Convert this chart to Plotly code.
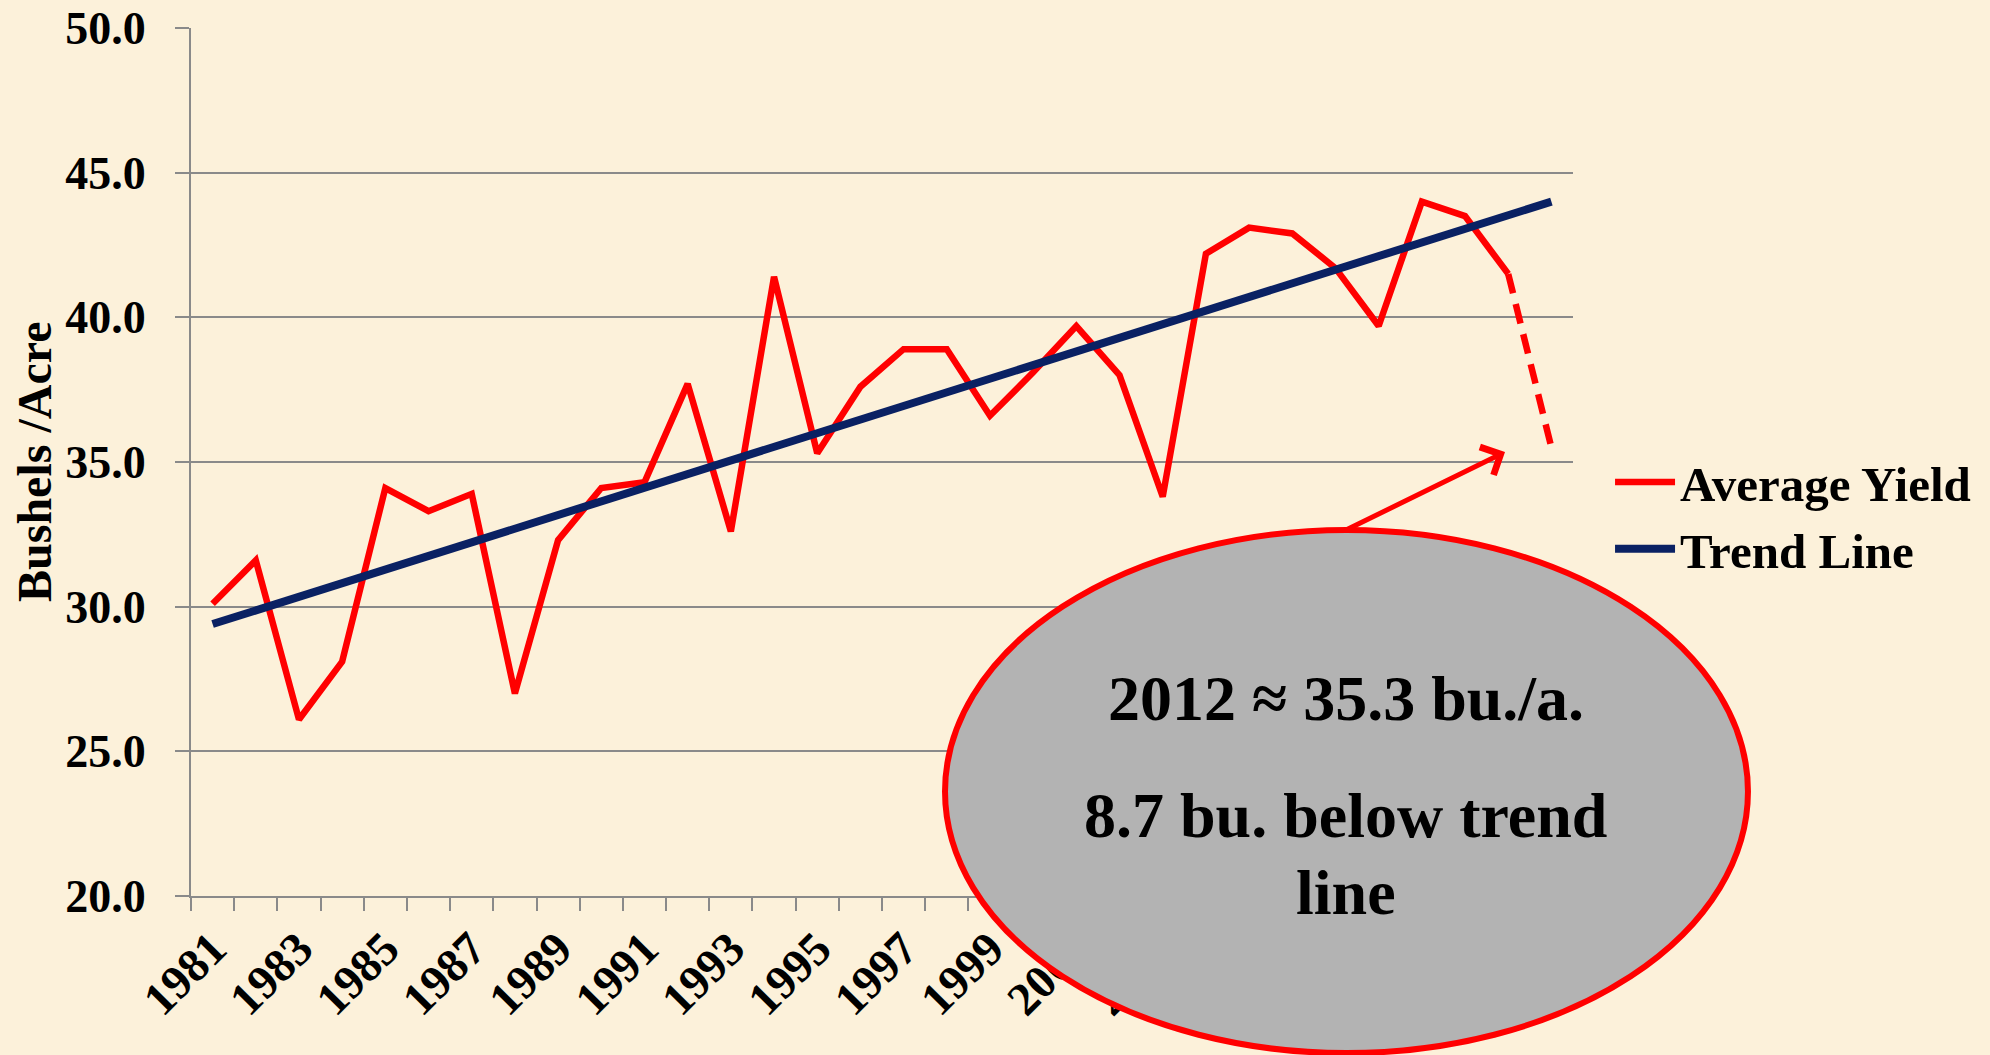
import plotly.graph_objects as go

years = [1981, 1982, 1983, 1984, 1985, 1986, 1987, 1988, 1989, 1990,
         1991, 1992, 1993, 1994, 1995, 1996, 1997, 1998, 1999, 2000,
         2001, 2002, 2003, 2004, 2005, 2006, 2007, 2008, 2009, 2010, 2011]
avg_yield = [30.1, 31.6, 26.1, 28.1, 34.1, 33.3, 33.9, 27.0, 32.3, 34.1,
             34.3, 37.7, 32.6, 41.4, 35.3, 37.6, 38.9, 38.9, 36.6, 38.1,
             39.7, 38.0, 33.8, 42.2, 43.1, 42.9, 41.7, 39.7, 44.0, 43.5, 41.5]

# 2012 estimate, drawn dashed from the 2011 point
est_years = [2011, 2012]
est_yield = [41.5, 35.5]

trend_years = [1981, 2012]
trend_yield = [29.4, 44.0]

tick_years = [1981, 1983, 1985, 1987, 1989, 1991, 1993, 1995,
              1997, 1999, 2001, 2003, 2005, 2007, 2009, 2011]
tick_labels = [str(y) for y in tick_years]
y_ticks = [20, 25, 30, 35, 40, 45, 50]
y_labels = ["20.0", "25.0", "30.0", "35.0", "40.0", "45.0", "50.0"]

RED = "#ff0000"
NAVY = "#0a2163"
GRID = "#8a8a8a"
BG = "#fcf1da"
SERIF = "Liberation Serif"

fig = go.Figure()
fig.add_trace(go.Scatter(x=years, y=avg_yield, mode="lines", name="Average Yield",
                         line=dict(color=RED, width=6.5)))
fig.add_trace(go.Scatter(x=est_years, y=est_yield, mode="lines", showlegend=False,
                         line=dict(color=RED, width=6.5, dash="20px,11px")))
fig.add_trace(go.Scatter(x=trend_years, y=trend_yield, mode="lines", name="Trend Line",
                         line=dict(color=NAVY, width=8)))

fig.update_layout(
    width=1990, height=1055,
    margin=dict(l=191, r=417, t=28, b=159, pad=0, autoexpand=False),
    paper_bgcolor=BG, plot_bgcolor=BG,
    font=dict(family=SERIF, color="black", size=46, weight="bold"),
    xaxis=dict(range=[1980.5, 2012.5], showgrid=False, zeroline=False,
               showline=True, linecolor=GRID, linewidth=2,
               tickmode="array", tickvals=tick_years, ticktext=tick_labels,
               ticks="", tickangle=-45, ticklabelstandoff=4,
               tickfont=dict(family=SERIF, size=47, weight="bold"),
               minor=dict(tickmode="linear", tick0=1980.5, dtick=1, ticks="outside",
                          ticklen=13, tickwidth=2, tickcolor=GRID, showgrid=False)),
    yaxis=dict(range=[20, 50], tickmode="array", tickvals=y_ticks, ticktext=y_labels,
               showgrid=True, gridcolor=GRID, gridwidth=2, zeroline=False,
               showline=True, linecolor=GRID, linewidth=2,
               ticks="outside", ticklen=14, tickwidth=2, tickcolor=GRID,
               ticklabelstandoff=20,
               tickfont=dict(family=SERIF, size=46, weight="bold")),
    legend=dict(x=1.0268, y=0.521, xanchor="left", yanchor="top",
                bgcolor="rgba(0,0,0,0)", itemwidth=60,
                font=dict(family=SERIF, size=49, weight="bold")),
)

# callout bubble
fig.add_shape(type="circle", xref="paper", yref="paper",
              x0=0.5456, x1=1.1266, y0=-0.181, y1=0.4217,
              fillcolor="#b3b3b3", line=dict(color=RED, width=6), layer="above")

fig.add_annotation(x=0.9508, y=0.5115, xref="paper", yref="paper", text="",
                   showarrow=True, ax=-159, ay=78, arrowhead=4, arrowsize=1.2,
                   arrowwidth=5, arrowcolor=RED)

bubble_font = dict(family=SERIF, size=64, weight="bold")
fig.add_annotation(x=0.8357, y=0.2281, xref="paper", yref="paper",
                   xanchor="center", yanchor="middle",
                   text="2012 ≈ 35.3 bu./a.", showarrow=False, font=bubble_font)
fig.add_annotation(x=0.8357, y=0.0922, xref="paper", yref="paper",
                   xanchor="center", yanchor="middle",
                   text="8.7 bu. below trend", showarrow=False, font=bubble_font)
fig.add_annotation(x=0.8357, y=0.0046, xref="paper", yref="paper",
                   xanchor="center", yanchor="middle",
                   text="line", showarrow=False, font=bubble_font)

fig.add_annotation(x=-0.1136, y=0.5, xref="paper", yref="paper",
                   xanchor="center", yanchor="middle",
                   text="Bushels /Acre", textangle=-90, showarrow=False,
                   font=dict(family=SERIF, size=48, weight="bold"))

fig.write_html("out.html", config={"displayModeBar": False},
               post_script="document.body.style.margin='0';")
